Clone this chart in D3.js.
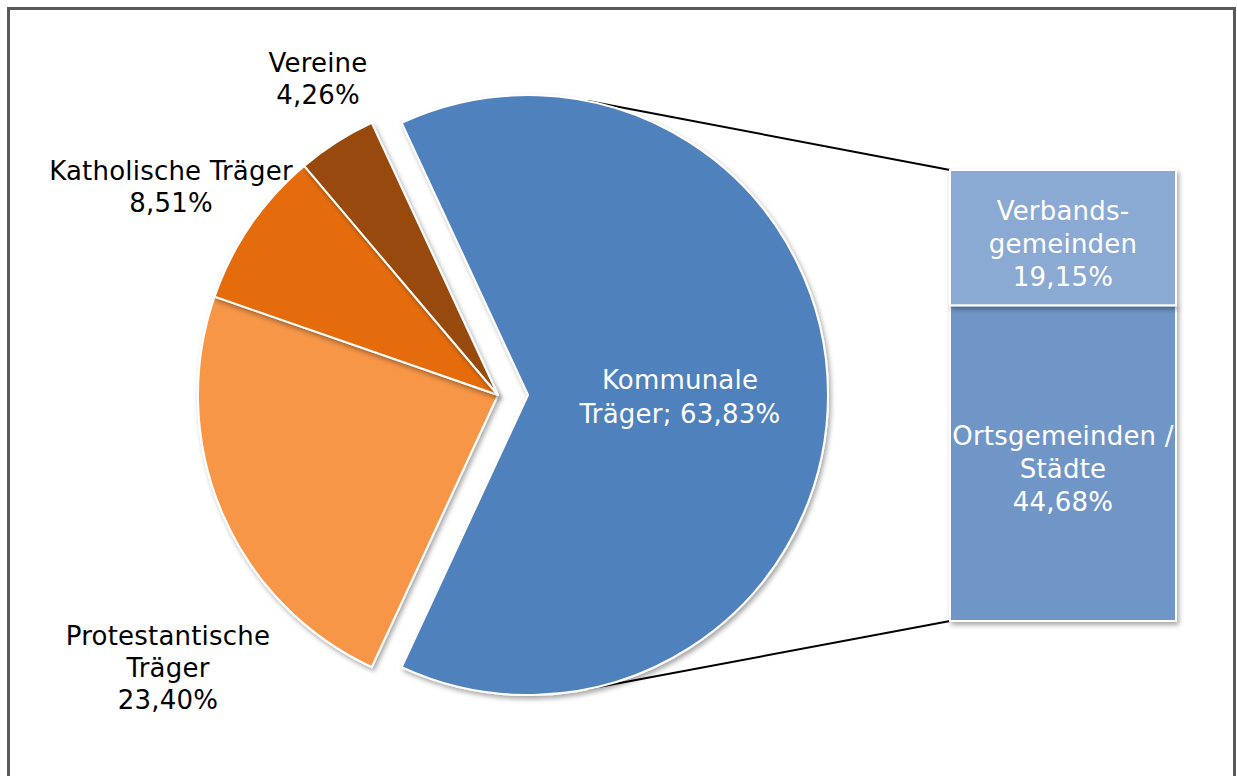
<!DOCTYPE html>
<meta charset="utf-8" />
<html>
<head>
    <script src="https://d3js.org/d3.v7.min.js"></script>
    <style>
        body { margin: 0; background: #fff; }
        text { font-family: "DejaVu Sans", Verdana, sans-serif; font-size: 26px; letter-spacing: 0.2px; }
    </style>
</head>
<body>
<svg width="1237" height="776"></svg>
<script>
    // Data
    var pieLabels = ["Kommunale Träger", "Protestantische Träger", "Katholische Träger", "Vereine"];
    var pieValues = [63.83, 23.40, 8.51, 4.26];
    var pieColors = ["#4f81bd", "#f79646", "#e46c0a", "#984807"];

    var barLabels = ["Ortsgemeinden / Städte", "Verbandsgemeinden"];
    var barValues = [44.68, 19.15];
    var barColors = ["#6f96c7", "#8aa9d3"];

    // how the label texts wrap
    var pieLabelLines = [["Kommunale", "Träger; {v}"], ["Protestantische", "Träger", "{v}"], ["Katholische Träger", "{v}"], ["Vereine", "{v}"]];
    var barLabelLines = [["Ortsgemeinden /", "Städte", "{v}"], ["Verbands-", "gemeinden", "{v}"]];

    var de = d3.formatLocale({decimal: ",", thousands: ".", grouping: [3], currency: ["", "€"]});
    var pct = function(v) { return de.format(".2f")(v) + "%"; };

    var svg = d3.select("svg");

    // chart frame
    svg.append("rect").attr("x", 8.5).attr("y", 8.5).attr("width", 1226).attr("height", 800)
        .attr("fill", "#fff").attr("stroke", "#595959").attr("stroke-width", 3);

    var defs = svg.append("defs");
    defs.append("filter").attr("id", "shadow").attr("x", "-10%").attr("y", "-10%").attr("width", "120%").attr("height", "120%")
        .append("feDropShadow").attr("dx", 2).attr("dy", 3).attr("stdDeviation", 2.5)
        .attr("flood-color", "#000").attr("flood-opacity", 0.35);

    var cx = 498, cy = 395, r = 300, explode = 30;
    var total = d3.sum(pieValues);
    var firstSpan = pieValues[0] / total * 2 * Math.PI;

    var pie = d3.pie().sort(null).value(function(d) { return d; })
        .startAngle(Math.PI / 2 - firstSpan / 2)
        .endAngle(Math.PI / 2 - firstSpan / 2 + 2 * Math.PI);
    var arcs = pie(pieValues);
    var arc = d3.arc().innerRadius(0).outerRadius(r);

    // bar scale
    var barX = 950, barW = 226;
    var y = d3.scaleLinear().domain([0, d3.sum(barValues)]).range([621, 170]);

    // connector lines from exploded slice to bar
    var ex = cx + explode, ey = cy;
    var lineAng = 11.5 * Math.PI / 180;
    var g = svg.append("g");
    g.append("line")
        .attr("x1", ex + r * Math.sin(lineAng)).attr("y1", ey - r * Math.cos(lineAng))
        .attr("x2", barX).attr("y2", y(d3.sum(barValues)))
        .attr("stroke", "#000").attr("stroke-width", 2);
    g.append("line")
        .attr("x1", ex + r * Math.sin(Math.PI - lineAng)).attr("y1", ey - r * Math.cos(Math.PI - lineAng))
        .attr("x2", barX).attr("y2", y(0))
        .attr("stroke", "#000").attr("stroke-width", 2);

    // pie slices
    var pg = svg.append("g").attr("transform", "translate(" + cx + "," + cy + ")");
    pg.selectAll("path").data(arcs).enter().append("path")
        .attr("d", arc)
        .attr("transform", function(d, i) {
            if (i !== 0) return null;
            var mid = (d.startAngle + d.endAngle) / 2;
            return "translate(" + (explode * Math.sin(mid)) + "," + (-explode * Math.cos(mid)) + ")";
        })
        .attr("fill", function(d, i) { return pieColors[i]; })
        .attr("stroke", "#fff").attr("stroke-width", 2)
        .attr("stroke-linejoin", "round")
        .attr("filter", "url(#shadow)");

    // bar segments
    var stacked = [];
    var acc = 0;
    barValues.forEach(function(v, i) { stacked.push({i: i, y0: acc, y1: acc + v}); acc += v; });
    svg.append("g").selectAll("rect").data(stacked).enter().append("rect")
        .attr("x", barX).attr("width", barW)
        .attr("y", function(d) { return y(d.y1); })
        .attr("height", function(d) { return y(d.y0) - y(d.y1); })
        .attr("fill", function(d) { return barColors[d.i]; })
        .attr("stroke", "#fff").attr("stroke-width", 2)
        .attr("filter", "url(#shadow)");

    // labels
    function drawLabel(lines, v, x, yTop, color, step) {
        var t = svg.append("text").attr("text-anchor", "middle").attr("fill", color);
        lines.forEach(function(l, k) {
            t.append("tspan").attr("x", x).attr("y", yTop + k * step).text(l.replace("{v}", pct(v)));
        });
    }

    var pieLabelPos = [[680, 389], [168, 645], [171, 180], [318, 72]];
    arcs.forEach(function(d, i) {
        drawLabel(pieLabelLines[i], pieValues[i], pieLabelPos[i][0], pieLabelPos[i][1], i === 0 ? "#fff" : "#000", i === 0 ? 34 : 32);
    });

    stacked.forEach(function(d) {
        var mid = (y(d.y0) + y(d.y1)) / 2;
        var n = barLabelLines[d.i].length;
        drawLabel(barLabelLines[d.i], barValues[d.i], barX + barW / 2, mid - (n - 1) * 16.5 + 15, "#fff", 33);
    });
</script>
</body>
</html>
